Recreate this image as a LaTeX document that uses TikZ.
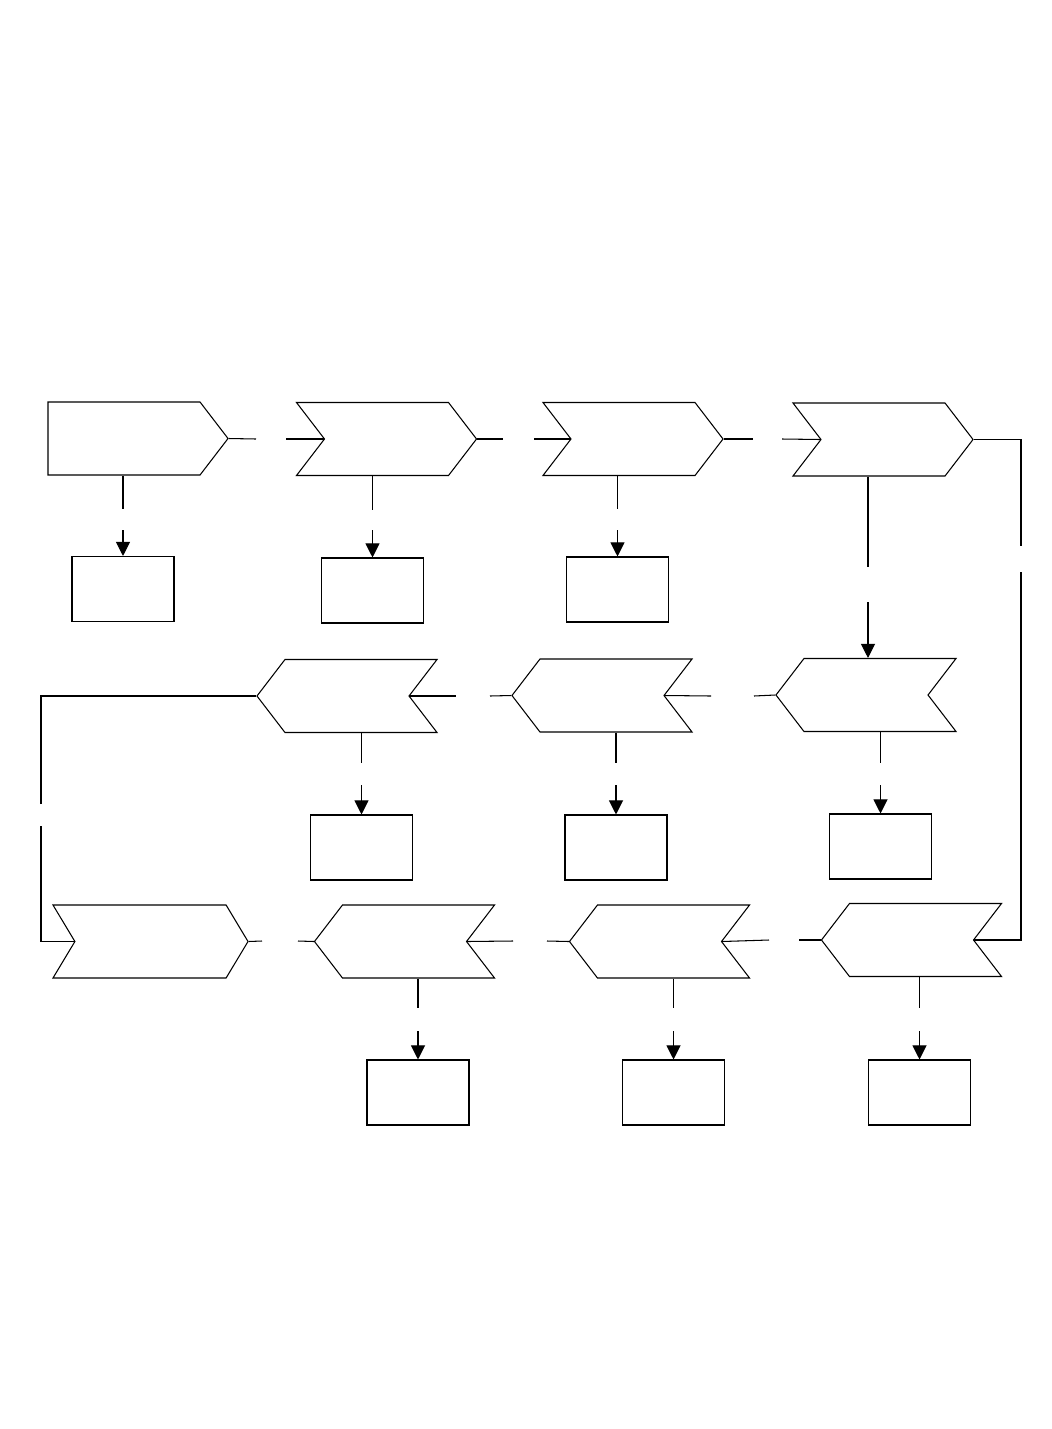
\documentclass[tikz,border=0pt]{standalone}
\usetikzlibrary{arrows.meta,shapes.symbols}

\begin{document}
\begin{tikzpicture}[
  x=0.025cm, y=-0.025cm,
  line width=0.75pt,
  stage/.style={draw, shape=signal, signal pointer angle=105, minimum width=4.5cm, minimum height=1.825cm, inner sep=0pt},
  endstage/.style={stage, signal pointer angle=118, minimum width=4.875cm},
  note/.style={draw, minimum width=2.55cm, minimum height=1.625cm, inner sep=0pt},
  arr/.style={-{Triangle[width=10pt, length=10pt]}}
]
  \useasboundingbox (0,0) rectangle (1052,1429);

  % top row, going right
  \node[stage, signal to=east] (a1) at (124,438.5) {};
  \node[stage, signal from=west, signal to=east] (a2) at (386.5,439) {};
  \node[stage, signal from=west, signal to=east] (a3) at (633,439) {};
  \node[stage, signal from=west, signal to=east] (a4) at (883,439.5) {};
  % middle row, going left
  \node[stage, signal from=east, signal to=west] (b1) at (347,696) {};
  \node[stage, signal from=east, signal to=west] (b2) at (602,695.5) {};
  \node[stage, signal from=east, signal to=west] (b3) at (866,695) {};
  % bottom row
  \node[endstage, signal from=west and east] (c1) at (150.5,941.5) {};
  \node[stage, signal from=east, signal to=west] (c2) at (404.5,941.5) {};
  \node[stage, signal from=east, signal to=west] (c3) at (659.5,941.5) {};
  \node[stage, signal from=east, signal to=west] (c4) at (911.5,940) {};

  % boxes under the stages
  \node[note] (r1) at (123,589) {};
  \node[note] (r2) at (372.5,590.5) {};
  \node[note] (r3) at (617.5,589.5) {};
  \node[note] (r4) at (361.5,847.5) {};
  \node[note] (r5) at (616,847.5) {};
  \node[note] (r6) at (880.5,846.5) {};
  \node[note] (r7) at (418,1092.5) {};
  \node[note] (r8) at (673.5,1092.5) {};
  \node[note] (r9) at (919.5,1092.5) {};

  % ends of the broken connectors
  \coordinate (h1) at (256,439);  \coordinate (k1) at (286,439);
  \coordinate (h2) at (503,439);  \coordinate (k2) at (534,439);
  \coordinate (h3) at (753,439);  \coordinate (k3) at (782,439);
  \coordinate (h4) at (1021,546); \coordinate (k4) at (1021,572);
  \coordinate (h5) at (799,940);  \coordinate (k5) at (769,940);
  \coordinate (h6) at (547,941);  \coordinate (k6) at (513,941);
  \coordinate (h7) at (298,941);  \coordinate (k7) at (262,941);
  \coordinate (h8) at (41,826);   \coordinate (k8) at (41,804);
  \coordinate (h9) at (456,696);  \coordinate (k9) at (490,696);
  \coordinate (h10) at (711,696); \coordinate (k10) at (754,696);

  \draw (a1.east) -- (h1);  \draw (k1) -- (a2.west);
  \draw (a2.east) -- (h2);  \draw (k2) -- (a3.west);
  \draw (a3.east) -- (h3);  \draw (k3) -- (a4.west);
  \draw (a4.east) -| (h4);  \draw (k4) |- (c4.east);
  \draw (c4.west) -- (h5);  \draw (k5) -- (c3.east);
  \draw (c3.west) -- (h6);  \draw (k6) -- (c2.east);
  \draw (c2.west) -- (h7);  \draw (k7) -- (c1.east);
  \draw (c1.west) -| (h8);  \draw (k8) |- (b1.west);
  \draw (b1.east) -- (h9);  \draw (k9) -- (b2.west);
  \draw (b2.east) -- (h10); \draw (k10) -- (b3.west);

  % down arrows
  \coordinate (u1) at (123,509);   \coordinate (v1) at (123,530);
  \coordinate (u2) at (372.5,510); \coordinate (v2) at (372.5,530);
  \coordinate (u3) at (617.5,509); \coordinate (v3) at (617.5,530);
  \coordinate (u4) at (868,567);   \coordinate (v4) at (868,602);
  \coordinate (u5) at (361.5,763); \coordinate (v5) at (361.5,785);
  \coordinate (u6) at (616,763);   \coordinate (v6) at (616,785);
  \coordinate (u7) at (880.5,763); \coordinate (v7) at (880.5,785);
  \coordinate (u8) at (418,1008);  \coordinate (v8) at (418,1031);
  \coordinate (u9) at (673.5,1008); \coordinate (v9) at (673.5,1031);
  \coordinate (u10) at (919.5,1008); \coordinate (v10) at (919.5,1031);

  \draw (u1 |- a1.south) -- (u1);  \draw[arr] (v1) -- (r1);
  \draw (u2 |- a2.south) -- (u2);  \draw[arr] (v2) -- (r2);
  \draw (u3 |- a3.south) -- (u3);  \draw[arr] (v3) -- (r3);
  \draw (u4 |- a4.south) -- (u4);  \draw[arr] (v4) -- (v4 |- b3.north);
  \draw (u5 |- b1.south) -- (u5);  \draw[arr] (v5) -- (r4);
  \draw (u6 |- b2.south) -- (u6);  \draw[arr] (v6) -- (r5);
  \draw (u7 |- b3.south) -- (u7);  \draw[arr] (v7) -- (r6);
  \draw (u8 |- c2.south) -- (u8);  \draw[arr] (v8) -- (r7);
  \draw (u9 |- c3.south) -- (u9);  \draw[arr] (v9) -- (r8);
  \draw (u10 |- c4.south) -- (u10); \draw[arr] (v10) -- (r9);
\end{tikzpicture}
\end{document}
